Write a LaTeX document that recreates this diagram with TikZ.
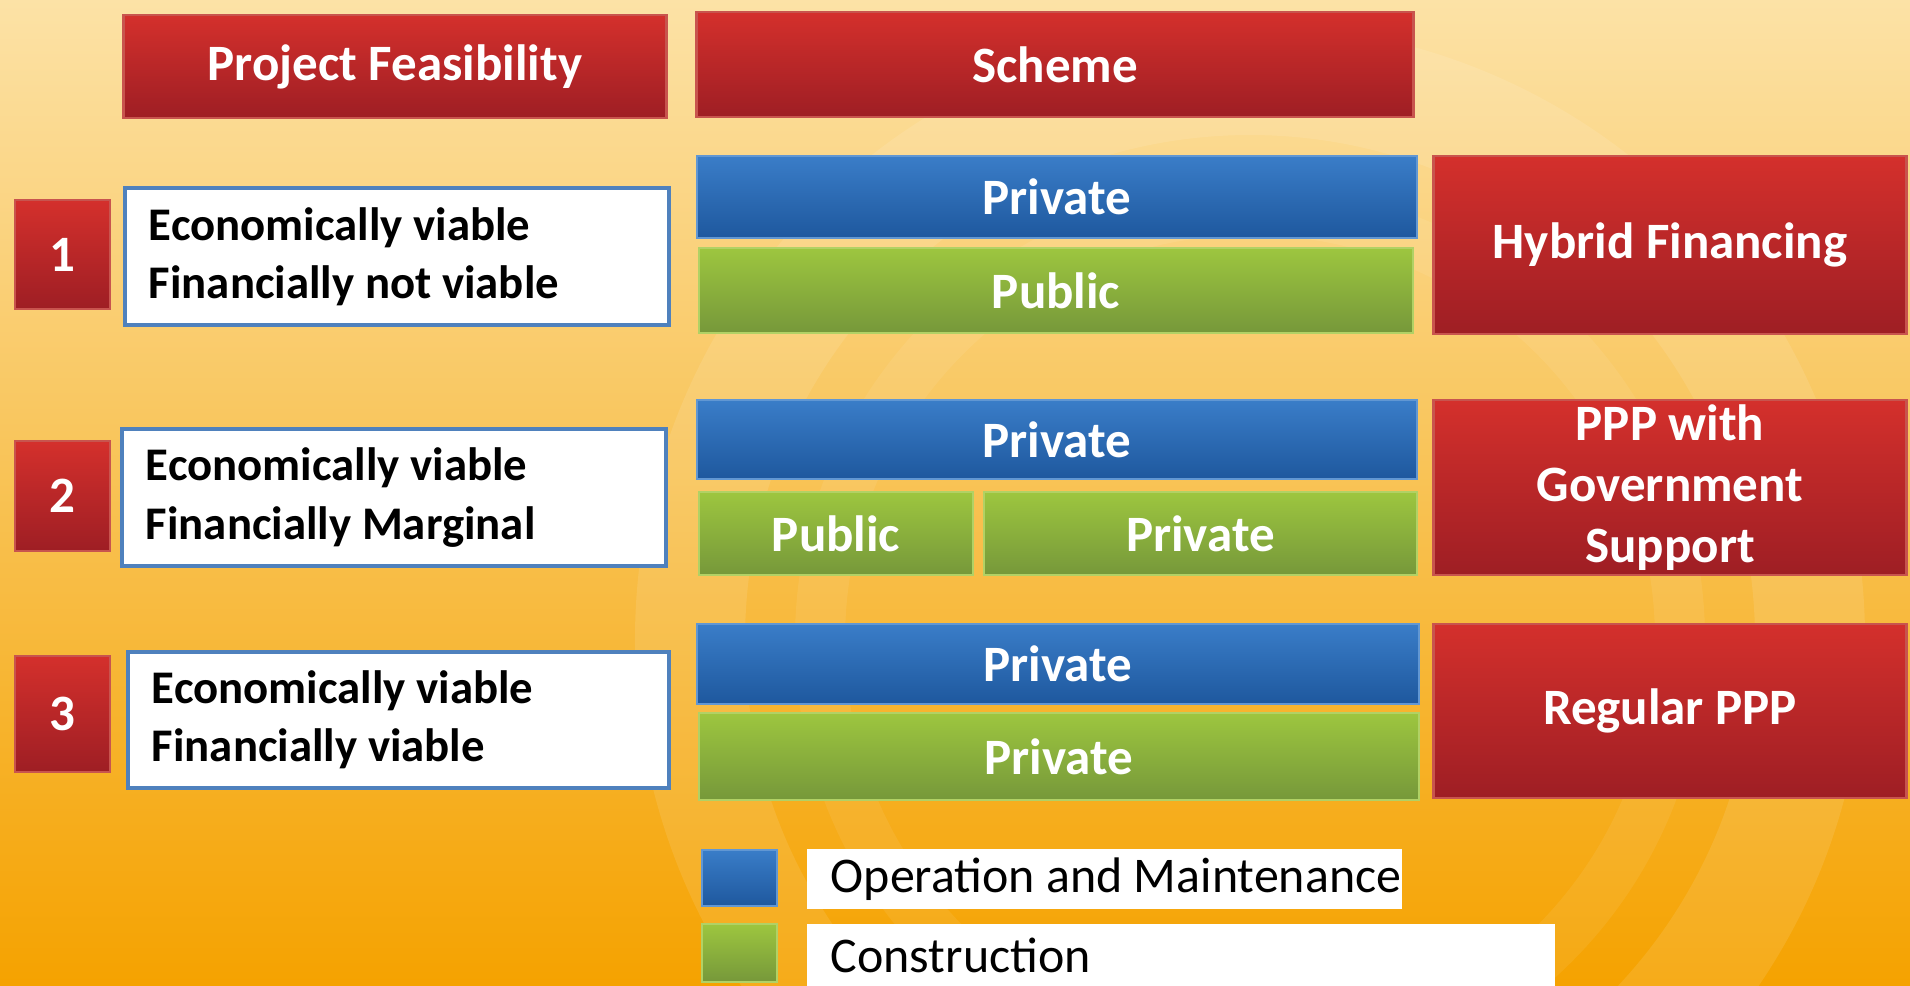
\documentclass[tikz,border=0pt]{standalone}
\usepackage{fontspec}
\setmainfont{Carlito}
\usepackage{tikz}
\usetikzlibrary{positioning}

\definecolor{bgtop}{RGB}{252,226,166}
\definecolor{bgmid}{RGB}{248,190,80}
\definecolor{bgbot}{RGB}{245,162,0}
\definecolor{redtop}{RGB}{212,48,44}
\definecolor{redbot}{RGB}{158,30,36}
\definecolor{redline}{RGB}{200,84,78}
\definecolor{bluetop}{RGB}{58,125,200}
\definecolor{bluebot}{RGB}{30,88,158}
\definecolor{greentop}{RGB}{157,198,63}
\definecolor{greenbot}{RGB}{118,152,58}
\definecolor{frameblue}{RGB}{79,129,189}

\tikzset{
  redbox/.style={draw=redline, line width=0.8pt, top color=redtop, bottom color=redbot,
    text=white, font=\bfseries\fontsize{14.5}{17.3}\selectfont, align=center, inner sep=0pt},
  bluebar/.style={draw=bluetop!80!white, line width=0.6pt, top color=bluetop, bottom color=bluebot,
    text=white, font=\bfseries\fontsize{14.5}{16}\selectfont, inner sep=0pt},
  greenbar/.style={draw=greentop!80!white, line width=0.6pt, top color=greentop, bottom color=greenbot,
    text=white, font=\bfseries\fontsize{14.5}{16}\selectfont, inner sep=0pt},
  feasbox/.style={draw=frameblue, line width=1pt, fill=white, text=black,
    font=\bfseries\fontsize{13.3}{16.6}\selectfont, align=flush left, inner xsep=0.24cm, inner ysep=0pt},
  legtext/.style={fill=white, text=black, font=\fontsize{14.2}{16}\selectfont,
    align=flush left, inner xsep=0.24cm, inner ysep=0pt, anchor=west}
}

\begin{document}
\begin{tikzpicture}[x=0.01cm, y=-0.01cm]
		%%%%% BACKGROUND %%%%%
		\useasboundingbox (0,0) rectangle (1910,986);
		\shade[top color=bgtop, middle color=bgmid, bottom color=bgbot] (0,0) rectangle (1910,986);
		\begin{scope}
			\clip (0,0) rectangle (1910,986);
			\draw[white, opacity=0.10, line width=1.1cm] (1250,640) circle (560);
			\draw[white, opacity=0.07, line width=0.5cm] (1250,640) circle (430);
		\end{scope}
		
		%%%%% HEADINGS %%%%%
		\node[redbox, minimum width=5.42cm, minimum height=1.03cm] (feas) at (395,66.5) {Project Feasibility};
		\node[redbox, minimum width=7.16cm, minimum height=1.05cm] (scheme) at (1055,64.5) {Scheme};
		
		%%%%% ROW 1 %%%%%
		\node[redbox, minimum width=0.95cm, minimum height=1.09cm] (num1) at (62.5,254.5) {1};
		\node[feasbox, text width=4.96cm, minimum height=1.37cm] (feas1) at (397,256.5) {Economically viable\\Financially not viable};
		\node[bluebar, minimum width=7.20cm, minimum height=0.82cm] (om1) at (1057,197) {Private};
		\node[greenbar, minimum width=7.14cm, minimum height=0.85cm] (con1) at (1056,290.5) {Public};
		\node[redbox, minimum width=4.72cm, minimum height=1.78cm] (res1) at (1670,245) {Hybrid Financing};
		
		%%%%% ROW 2 %%%%%
		\node[redbox, minimum width=0.95cm, minimum height=1.10cm] (num2) at (62.5,496) {2};
		\node[feasbox, text width=4.96cm, minimum height=1.37cm] (feas2) at (394,497.5) {Economically viable\\Financially Marginal};
		\node[bluebar, minimum width=7.20cm, minimum height=0.79cm] (om2) at (1057,439.5) {Private};
		\node[greenbar, minimum width=2.74cm, minimum height=0.83cm] (con2a) at (836,533.5) {Public};
		\node[greenbar, minimum width=4.33cm, minimum height=0.83cm] (con2b) at (1200.5,533.5) {Private};
		\node[redbox, minimum width=4.72cm, minimum height=1.75cm] (res2) at (1670,487.5) {PPP with\\Government\\Support};
		
		%%%%% ROW 3 %%%%%
		\node[redbox, minimum width=0.95cm, minimum height=1.16cm] (num3) at (62.5,714) {3};
		\node[feasbox, text width=4.93cm, minimum height=1.36cm] (feas3) at (398.5,720) {Economically viable\\Financially viable};
		\node[bluebar, minimum width=7.22cm, minimum height=0.80cm] (om3) at (1058,664) {Private};
		\node[greenbar, minimum width=7.20cm, minimum height=0.87cm] (con3) at (1059,756.5) {Private};
		\node[redbox, minimum width=4.72cm, minimum height=1.74cm] (res3) at (1670,711) {Regular PPP};
		
		%%%%% LEGEND %%%%%
		\node[bluebar, minimum width=0.75cm, minimum height=0.56cm] (keyom) at (739.5,878) {};
		\node[legtext, text width=5.47cm, minimum height=0.60cm] (legom) at (806,879) {\mbox{Operation and Maintenance}};
		\node[greenbar, minimum width=0.75cm, minimum height=0.58cm] (keycon) at (739.5,953) {};
		\node[legtext, text width=7.00cm, minimum height=0.62cm] (legcon) at (806,955) {Construction};
		
		%%%%% END %%%%%
\end{tikzpicture}
\end{document}
